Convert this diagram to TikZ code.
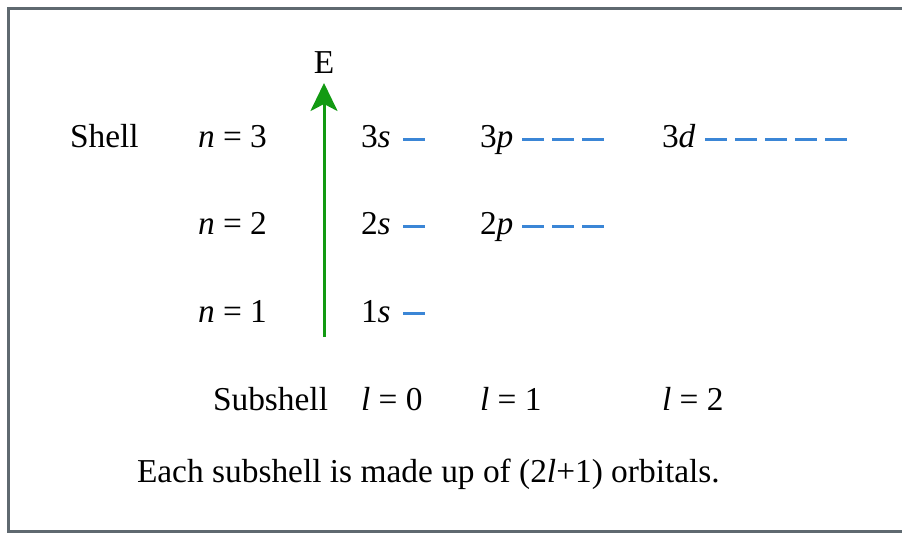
\documentclass[tikz,border=0pt]{standalone}
\usepackage{fontspec}
\setmainfont{Liberation Serif}
\usetikzlibrary{arrows.meta}
\definecolor{framegray}{HTML}{5F6970}
\definecolor{arrowgreen}{HTML}{129A12}
\definecolor{orbblue}{HTML}{3B86D6}
\begin{document}
\begin{tikzpicture}[x=1pt,y=-1pt,
  txt/.style={inner sep=0pt,outer sep=0pt,anchor=base west,font=\fontsize{33.4}{40}\selectfont},
  orb/.style={draw=orbblue,line width=3pt},
  energy/.style={draw=arrowgreen,line width=3pt,-{Stealth[length=28pt,width=27pt,inset=7pt]}},
  frame/.style={draw=framegray,line width=3pt}]
\useasboundingbox (0,0) rectangle (902,533);
\draw[frame] (8.5,8.5) rectangle (904,531.5);
% energy axis
\node[txt,anchor=base] (E) at (324,73) {E};
\coordinate (ebot) at (324,337);
\coordinate (etop) at (324,83);
\draw[energy] (ebot) -- (etop);
% shell labels
\node[txt] (shell) at (70,147) {Shell};
\node[txt] (n3) at (198,147) {\textit{n} = 3};
\node[txt] (n2) at (198,234) {\textit{n} = 2};
\node[txt] (n1) at (198,322) {\textit{n} = 1};
% subshell labels
\node[txt] (s3) at (361,147) {3\textit{s}};
\node[txt] (p3) at (480,147) {3\textit{p}};
\node[txt] (d3) at (662,147) {3\textit{d}};
\node[txt] (s2) at (361,234) {2\textit{s}};
\node[txt] (p2) at (480,234) {2\textit{p}};
\node[txt] (s1) at (361,322) {1\textit{s}};
% orbitals
\foreach \y in {139,226,313} \draw[orb] (403,\y) -- +(22,0);
\foreach \y in {139,226} \foreach \x in {522,552,582} \draw[orb] (\x,\y) -- +(22,0);
\foreach \x in {705,735,765,795,825} \draw[orb] (\x,139) -- +(22,0);
% bottom rows
\node[txt] (sub) at (213,410) {Subshell};
\node[txt] (l0) at (361,410) {\textit{l} = 0};
\node[txt] (l1) at (480,410) {\textit{l} = 1};
\node[txt] (l2) at (662,410) {\textit{l} = 2};
\node[txt] (note) at (137,482) {Each subshell is made up of (2\textit{l}+1) orbitals.};
\end{tikzpicture}
\end{document}
